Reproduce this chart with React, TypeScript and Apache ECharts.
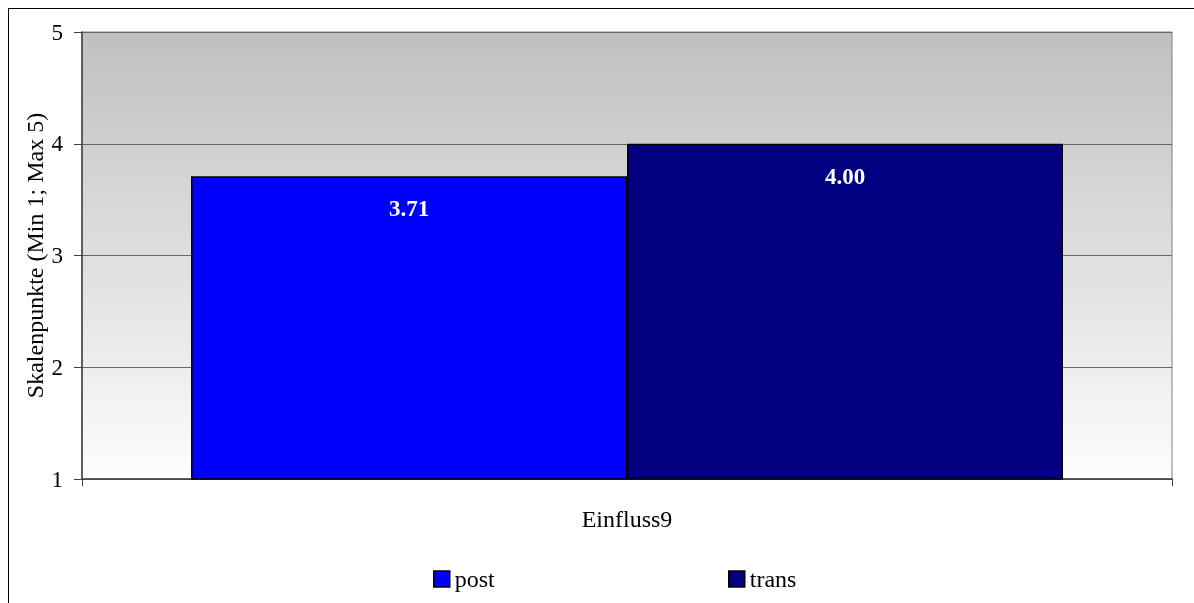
import React, { useEffect, useRef } from "react";
import * as echarts from "echarts";

const categories = ["Einfluss9"];
const seriesNames = ["post", "trans"];
const postValues = [3.71];
const transValues = [4.0];
const seriesColors = ["#0000ff", "#000080"];
const yTicks = { min: 1, max: 5, interval: 1 };
const yAxisName = "Skalenpunkte (Min 1; Max 5)";

const FONT = "Liberation Serif";

export default function App() {
  const ref = useRef<HTMLDivElement>(null);
  useEffect(() => {
    if (!ref.current) return;
    const chart = echarts.init(ref.current, null, { renderer: "svg" });
    const values = [postValues, transValues];
    const legendText = { fontFamily: FONT, fontSize: 24, color: "#000" };
    const legendBase = {
      top: 553,
      itemWidth: 16,
      itemHeight: 16,
      icon: "rect",
      textStyle: legendText,
      itemStyle: { borderColor: "#000", borderWidth: 1.5 },
    };
    chart.setOption({
      animation: false,
      textStyle: { fontFamily: FONT },
      grid: {
        left: 73,
        top: 23,
        width: 1090,
        height: 447,
        containLabel: false,
        outerBoundsMode: "none",
        show: true,
        borderColor: "#808080",
        borderWidth: 1,
        backgroundColor: new echarts.graphic.LinearGradient(0, 0, 0, 1, [
          { offset: 0, color: "#c0c0c0" },
          { offset: 1, color: "#fdfdfd" },
        ]),
      },
      legend: [
        { ...legendBase, data: [seriesNames[0]], left: 419 },
        { ...legendBase, data: [seriesNames[1]], left: 714 },
      ],
      xAxis: {
        type: "category",
        data: categories,
        boundaryGap: true,
        axisLine: { lineStyle: { color: "#404040", width: 1.5 } },
        axisTick: { show: true, length: 7, lineStyle: { color: "#404040" } },
        axisLabel: { margin: 28, fontSize: 24, color: "#000", fontFamily: FONT },
        splitLine: { show: false },
      },
      yAxis: {
        type: "value",
        min: yTicks.min,
        max: yTicks.max,
        interval: yTicks.interval,
        name: yAxisName,
        nameLocation: "middle",
        nameGap: 35,
        nameMoveOverlap: false,
        nameTextStyle: { fontSize: 24, color: "#000", fontFamily: FONT },
        axisLine: { show: true, lineStyle: { color: "#404040", width: 1.5 } },
        axisTick: { show: true, length: 8, lineStyle: { color: "#404040" } },
        axisLabel: { margin: 19, fontSize: 23, color: "#000", fontFamily: FONT },
        splitLine: { show: true, lineStyle: { color: "#666666", width: 1 } },
      },
      series: seriesNames.map((name, i) => ({
        name,
        type: "bar",
        data: values[i],
        barCategoryGap: "20%",
        barGap: "0%",
        itemStyle: { color: seriesColors[i], borderColor: "#000", borderWidth: 1.5 },
        label: {
          show: true,
          position: "insideTop",
          distance: 21,
          color: "#fff",
          fontWeight: "bold",
          fontSize: 23,
          fontFamily: FONT,
          formatter: (p: any) => Number(p.value).toFixed(2),
        },
      })),
    });
    return () => chart.dispose();
  }, []);
  return (
    <div
      style={{
        position: "fixed",
        left: 8,
        top: 8,
        width: 1186,
        height: 595,
        borderLeft: "1px solid #000",
        borderTop: "1px solid #000",
        boxSizing: "border-box",
        overflow: "hidden",
      }}
    >
      <div ref={ref} style={{ width: 1185, height: 594 }} />
    </div>
  );
}
